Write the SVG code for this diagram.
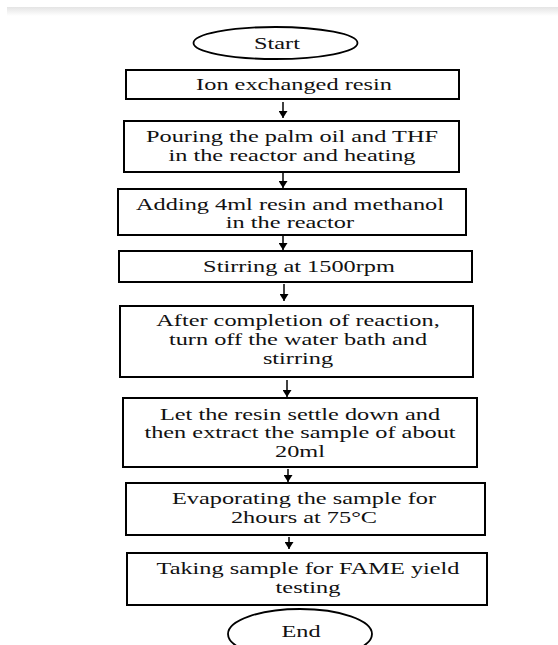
<svg xmlns="http://www.w3.org/2000/svg" width="558" height="645" viewBox="0 0 558 645">
<defs>
<linearGradient id="band" x1="0" y1="0" x2="0" y2="1">
<stop offset="0" stop-color="#e4e4e4"/>
<stop offset="1" stop-color="#ffffff"/>
</linearGradient>
<marker id="ah" viewBox="0 0 7 9" markerWidth="7" markerHeight="9" refX="7" refY="4.5" orient="auto" markerUnits="userSpaceOnUse">
<path d="M0,0 L7,4.5 L0,9 z" fill="#000"/>
</marker>
</defs>
<style>
.box{fill:#fff;stroke:#000;stroke-width:2}
.oval{fill:#fff;stroke:#000;stroke-width:1.8}
.t{font-family:"Liberation Serif","Times New Roman",serif;font-size:16px;fill:#111;text-anchor:middle}
.c{stroke:#000;stroke-width:1.5;fill:none;marker-end:url(#ah)}
</style>
<rect x="0" y="0" width="558" height="645" fill="#fff"/>
<rect x="7" y="7" width="551" height="9" fill="url(#band)"/>

<g id="start">
<ellipse class="oval" cx="275.5" cy="43" rx="82" ry="16"/>
<g transform="translate(277 0) scale(1.52 1)"><text class="t" x="0" y="49">Start</text></g>
</g>

<g id="n1">
<rect class="box" x="126" y="70" width="333" height="29"/>
<g transform="translate(294 0) scale(1.52 1)"><text class="t" x="0" y="90.5">Ion exchanged resin</text></g>
</g>

<g id="n2">
<rect class="box" x="124" y="121" width="335" height="51"/>
<g transform="translate(292 0) scale(1.52 1)"><text class="t" x="0" y="142">Pouring the palm oil and THF</text><text class="t" x="0" y="161">in the reactor and heating</text></g>
</g>

<g id="n3">
<rect class="box" x="118" y="189" width="348" height="46"/>
<g transform="translate(290 0) scale(1.52 1)"><text class="t" x="0" y="210">Adding 4ml resin and methanol</text><text class="t" x="0" y="228">in the reactor</text></g>
</g>

<g id="n4">
<rect class="box" x="119" y="251" width="353" height="31"/>
<g transform="translate(299 0) scale(1.52 1)"><text class="t" x="0" y="272">Stirring at 1500rpm</text></g>
</g>

<g id="n5">
<rect class="box" x="120" y="306" width="353" height="71"/>
<g transform="translate(298 0) scale(1.52 1)"><text class="t" x="0" y="326.5">After completion of reaction,</text><text class="t" x="0" y="345.5">turn off the water bath and</text><text class="t" x="0" y="364">stirring</text></g>
</g>

<g id="n6">
<rect class="box" x="123" y="398" width="354" height="69"/>
<g transform="translate(300 0) scale(1.52 1)"><text class="t" x="0" y="420">Let the resin settle down and</text><text class="t" x="0" y="438.5">then extract the sample of about</text><text class="t" x="0" y="457">20ml</text></g>
</g>

<g id="n7">
<rect class="box" x="126" y="483" width="359" height="52"/>
<g transform="translate(304 0) scale(1.52 1)"><text class="t" x="0" y="504">Evaporating the sample for</text><text class="t" x="0" y="523">2hours at 75°C</text></g>
</g>

<g id="n8">
<rect class="box" x="127" y="553" width="360" height="52"/>
<g transform="translate(308 0) scale(1.52 1)"><text class="t" x="0" y="574">Taking sample for FAME yield</text><text class="t" x="0" y="593">testing</text></g>
</g>

<g id="end">
<ellipse class="oval" cx="300" cy="634" rx="72" ry="25"/>
<g transform="translate(301 0) scale(1.52 1)"><text class="t" x="0" y="637">End</text></g>
</g>

<g id="connectors">
<line class="c" x1="283" y1="102" x2="283" y2="118"/>
<line class="c" x1="283" y1="173" x2="283" y2="188"/>
<line class="c" x1="283" y1="236" x2="283" y2="250"/>
<line class="c" x1="284" y1="284" x2="284" y2="301"/>
<line class="c" x1="287" y1="380" x2="287" y2="397"/>
<line class="c" x1="288" y1="469" x2="288" y2="482"/>
<line class="c" x1="289" y1="537" x2="289" y2="549"/>
</g>
</svg>
